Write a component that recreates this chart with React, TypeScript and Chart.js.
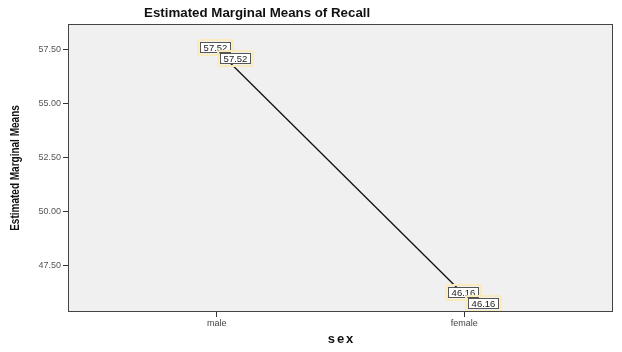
import React, { useEffect, useRef } from "react";
import { Chart, registerables } from "chart.js";

Chart.register(...registerables);

const categories = ["male", "female"];
const means = [57.52, 46.16];
const yTicks = [47.5, 50.0, 52.5, 55.0, 57.5];
const titleText = "Estimated Marginal Means of Recall";
const xTitle = "sex";
const yTitle = "Estimated Marginal Means";

const FONT = "Arial, 'Liberation Sans', sans-serif";

function roundRect(ctx: CanvasRenderingContext2D, x: number, y: number, w: number, h: number, r: number) {
  ctx.beginPath();
  ctx.moveTo(x + r, y);
  ctx.lineTo(x + w - r, y);
  ctx.quadraticCurveTo(x + w, y, x + w, y + r);
  ctx.lineTo(x + w, y + h - r);
  ctx.quadraticCurveTo(x + w, y + h, x + w - r, y + h);
  ctx.lineTo(x + r, y + h);
  ctx.quadraticCurveTo(x, y + h, x, y + h - r);
  ctx.lineTo(x, y + r);
  ctx.quadraticCurveTo(x, y, x + r, y);
  ctx.closePath();
}

const decorPlugin = {
  id: "decor",
  beforeDraw(chart: any) {
    const { ctx, chartArea } = chart;
    ctx.save();
    ctx.fillStyle = "#f0f0f0";
    ctx.fillRect(chartArea.left, chartArea.top, chartArea.right - chartArea.left, chartArea.bottom - chartArea.top);
    ctx.restore();
  },
  afterDatasetsDraw(chart: any) {
    const { ctx } = chart;
    const meta = chart.getDatasetMeta(0);
    ctx.save();
    ctx.font = "9.5px " + FONT;
    ctx.textAlign = "center";
    ctx.textBaseline = "middle";
    meta.data.forEach((pt: any, i: number) => {
      const label = means[i].toFixed(2);
      const offsets = [
        [-1, -2],
        [19, 9],
      ];
      offsets.forEach(([dx, dy]) => {
        const cx = pt.x + dx;
        const cy = pt.y + dy;
        const w = 31;
        const h = 11;
        const bx = Math.round(cx - w / 2);
        const by = Math.round(cy - h / 2);
        ctx.strokeStyle = "#f9ebbb";
        ctx.lineWidth = 2;
        roundRect(ctx, bx - 2, by - 2, w + 4, h + 4, 2);
        ctx.stroke();
        ctx.fillStyle = "#ffffff";
        ctx.fillRect(bx, by, w, h);
        ctx.strokeStyle = "#555555";
        ctx.lineWidth = 1;
        ctx.strokeRect(bx + 0.5, by + 0.5, w - 1, h - 1);
        ctx.fillStyle = "#222222";
        ctx.fillText(label, bx + w / 2, by + h / 2 + 0.5);
      });
    });
    ctx.restore();
  },
  afterDraw(chart: any) {
    const { ctx, chartArea } = chart;
    ctx.save();
    ctx.strokeStyle = "#444444";
    ctx.lineWidth = 1;
    ctx.strokeRect(
      Math.round(chartArea.left) + 0.5,
      Math.round(chartArea.top) + 0.5,
      Math.round(chartArea.right - chartArea.left) - 1,
      Math.round(chartArea.bottom - chartArea.top) - 1
    );
    ctx.fillStyle = "#111111";
    ctx.font = "bold 13.3px " + FONT;
    ctx.textAlign = "center";
    ctx.textBaseline = "middle";
    ctx.fillText(titleText, chartArea.left + (chartArea.right - chartArea.left) * 0.347, 13);
    ctx.font = "bold 13px " + FONT;
    (ctx as any).letterSpacing = "2px";
    ctx.fillText(xTitle, (chartArea.left + chartArea.right) / 2 + 1, 339);
    (ctx as any).letterSpacing = "0px";
    ctx.translate(16, (chartArea.top + chartArea.bottom) / 2);
    ctx.rotate(-Math.PI / 2);
    ctx.scale(0.8, 1);
    ctx.font = "bold 12.5px " + FONT;
    ctx.fillText(yTitle, 0, 0);
    ctx.restore();
  },
};

export default function App() {
  const ref = useRef<HTMLCanvasElement | null>(null);
  useEffect(() => {
    if (!ref.current) return;
    const chart = new Chart(ref.current, {
      type: "line",
      data: {
        datasets: [
          {
            data: means.map((v, i) => ({ x: i, y: v })),
            borderColor: "#111111",
            borderWidth: 1.3,
            pointRadius: 0,
            fill: false,
            tension: 0,
          },
        ],
      },
      options: {
        responsive: false,
        animation: false,
        layout: { padding: { top: 24, right: 9, left: 0, bottom: 0 } },
        plugins: { legend: { display: false }, tooltip: { enabled: false }, title: { display: false } },
        scales: {
          x: {
            type: "linear",
            min: -0.6,
            max: 1.6,
            afterBuildTicks: (scale: any) => {
              scale.ticks = categories.map((_, i) => ({ value: i }));
            },
            afterFit: (scale: any) => {
              scale.height = 40;
            },
            ticks: {
              callback: (v: any) => categories[v as number] ?? "",
              font: { size: 9, family: FONT },
              color: "#444444",
              padding: 1,
              maxRotation: 0,
              autoSkip: false,
            },
            grid: { drawOnChartArea: false, tickLength: 5, color: "#333333", tickWidth: 1 },
            border: { display: false },
          },
          y: {
            type: "linear",
            min: 45.37,
            max: 58.7,
            afterBuildTicks: (scale: any) => {
              scale.ticks = yTicks.map((v) => ({ value: v }));
            },
            afterFit: (scale: any) => {
              scale.width = 68;
            },
            ticks: {
              callback: (v: any) => Number(v).toFixed(2),
              font: { size: 9, family: FONT },
              color: "#555555",
              padding: 2,
            },
            grid: { drawOnChartArea: false, tickLength: 5, color: "#333333", tickWidth: 1 },
            border: { display: false },
          },
        },
      },
      plugins: [decorPlugin],
    });
    return () => chart.destroy();
  }, []);
  return (
    <div style={{ position: "fixed", left: 0, top: 0, width: 622, height: 352, background: "#fff" }}>
      <canvas ref={ref} width={622} height={352} style={{ display: "block" }} />
    </div>
  );
}
